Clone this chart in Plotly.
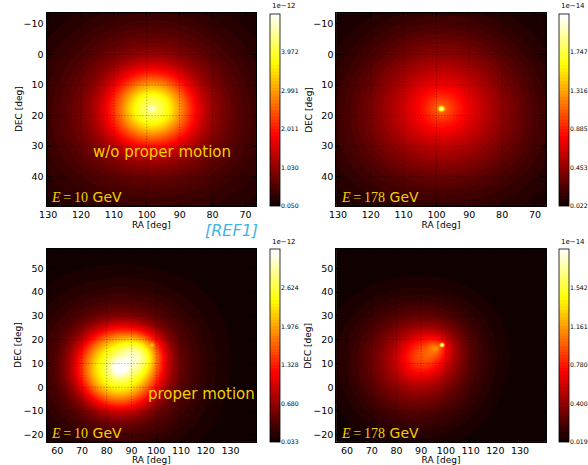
import numpy as np
import plotly.graph_objects as go

W, H = 588, 465

# ---------------- data ----------------
PSR_RA, PSR_DEC = 98.48, 17.77

top_ra_range = [130.5, 66.7]
top_dec_range = [49.5, -13.5]
bot_ra_range = [55.7, 140.4]
bot_dec_range = [-22.9, 58.1]

top_ra_ticks = [130, 120, 110, 100, 90, 80, 70]
top_dec_ticks = [-10, 0, 10, 20, 30, 40]
bot_ra_ticks = [60, 70, 80, 90, 100, 110, 120, 130]
bot_dec_ticks = [-20, -10, 0, 10, 20, 30, 40, 50]

# colorbar ticks (units shown by the offset label) and the colour range
cb_ticks_tl = [0.050, 1.030, 2.011, 2.991, 3.972]
cb_range_tl = [0.050, 4.953]
cb_ticks_tr = [0.022, 0.453, 0.885, 1.316, 1.747]
cb_range_tr = [0.022, 2.178]
cb_ticks_bl = [0.033, 0.680, 1.328, 1.976, 2.624]
cb_range_bl = [0.033, 3.271]
cb_ticks_br = [0.019, 0.400, 0.780, 1.161, 1.542]
cb_range_br = [0.019, 1.922]

cb_offsets = ["1e\u221212", "1e\u221214", "1e\u221212", "1e\u221214"]

# emission components per panel (fraction of colour range)
# top-left: 10 GeV, no proper motion
tl_ra = [PSR_RA, PSR_RA, PSR_RA]
tl_dec = [PSR_DEC, PSR_DEC, PSR_DEC]
tl_width = [11.0, 27.0, 0.8]
tl_amp = [0.60, 0.26, 0.14]
tl_shape = ["g", "g", "g"]
# top-right: 178 GeV, no proper motion
tr_ra = [PSR_RA, PSR_RA, PSR_RA]
tr_dec = [PSR_DEC, PSR_DEC, PSR_DEC]
tr_width = [25.0, 6.5, 0.7]
tr_amp = [0.29, 0.25, 0.46]
tr_shape = ["g", "e", "g"]
# bottom-left: 10 GeV, proper motion
bl_ra = [85.0, 85.0, 94.0, 86.0, PSR_RA]
bl_dec = [8.0, 8.0, 14.5, 8.0, PSR_DEC]
bl_width = [16.0, 4.0, 8.0, 26.0, 0.7]
bl_amp = [0.54, 0.18, 0.22, 0.28, 0.15]
bl_shape = ["s", "g", "g", "g", "g"]
# bottom-right: 178 GeV, proper motion
br_ra = [88.0, 90.0, 96.0, PSR_RA]
br_dec = [10.0, 12.5, 16.5, PSR_DEC]
br_width = [22.0, 9.0, 5.0, 0.7]
br_amp = [0.26, 0.16, 0.30, 0.58]
br_shape = ["g", "g", "e", "g"]

N_LEVELS = 60

# matplotlib "hot"
HOT = [[0.0, "rgb(11,0,0)"], [0.365079, "rgb(255,0,0)"],
       [0.746032, "rgb(255,255,0)"], [1.0, "rgb(255,255,255)"]]

FONT = "DejaVu Sans"
GOLD = "#f2d000"


def sep(ra, dec, ra0, dec0):
    r1, d1, r0, d0 = map(np.radians, (ra, dec, ra0, dec0))
    c = np.sin(d1) * np.sin(d0) + np.cos(d1) * np.cos(d0) * np.cos(r1 - r0)
    return np.degrees(np.arccos(np.clip(c, -1, 1)))


def field(ra_rng, dec_rng, ras, decs, widths, amps, shapes, zr):
    ra = np.linspace(min(ra_rng), max(ra_rng), 260)
    dec = np.linspace(min(dec_rng), max(dec_rng), 260)
    RA, DEC = np.meshgrid(ra, dec)
    f = np.zeros_like(RA)
    for a, d, w, amp, s in zip(ras, decs, widths, amps, shapes):
        r = sep(RA, DEC, a, d)
        if s == "g":
            f += amp * np.exp(-(r / w) ** 2)
        elif s == "e":
            f += amp * np.exp(-r / w)
        else:
            f += amp * np.exp(-(r / w) ** 3)
    z = zr[0] + f * (zr[1] - zr[0])
    return ra, dec, z


def px_x(a, b):
    return [a / W, b / W]


def px_y(top, bot):
    return [1 - bot / H, 1 - top / H]


panels = [
    dict(xd=px_x(40, 252.3), yd=px_y(13.3, 205.7), cbx=265.7, ytx=11.7,
         rar=top_ra_range, der=top_dec_range, rat=top_ra_ticks, det=top_dec_ticks,
         comp=(tl_ra, tl_dec, tl_width, tl_amp, tl_shape), cbt=cb_ticks_tl, cbr=cb_range_tl),
    dict(xd=px_x(333.3, 545.3), yd=px_y(13.3, 205.7), cbx=558.3, ytx=305.0,
         rar=top_ra_range, der=top_dec_range, rat=top_ra_ticks, det=top_dec_ticks,
         comp=(tr_ra, tr_dec, tr_width, tr_amp, tr_shape), cbt=cb_ticks_tr, cbr=cb_range_tr),
    dict(xd=px_x(40, 252.3), yd=px_y(249, 441.7), cbx=265.7, ytx=11.7,
         rar=bot_ra_range, der=bot_dec_range, rat=bot_ra_ticks, det=bot_dec_ticks,
         comp=(bl_ra, bl_dec, bl_width, bl_amp, bl_shape), cbt=cb_ticks_bl, cbr=cb_range_bl),
    dict(xd=px_x(333.3, 545.3), yd=px_y(249, 441.7), cbx=558.3, ytx=305.0,
         rar=bot_ra_range, der=bot_dec_range, rat=bot_ra_ticks, det=bot_dec_ticks,
         comp=(br_ra, br_dec, br_width, br_amp, br_shape), cbt=cb_ticks_br, cbr=cb_range_br),
]

CB_W = 10  # colorbar thickness, px

fig = go.Figure()
shapes = []
annotations = []
layout = dict(width=W, height=H, margin=dict(l=0, r=0, t=0, b=0),
              paper_bgcolor="white", plot_bgcolor="black", showlegend=False,
              font=dict(family=FONT, color="black"))

GRID = dict(color="rgba(0,0,0,0.7)", width=0.6, dash="1px,2px")

for i, p in enumerate(panels):
    k = "" if i == 0 else str(i + 1)
    xa, ya = "x" + k, "y" + k
    ra, dec, z = field(p["rar"], p["der"], *p["comp"], p["cbr"])
    zr = p["cbr"]
    y0, y1 = p["yd"]
    fig.add_trace(go.Contour(
        x=ra, y=dec, z=z, xaxis=xa, yaxis=ya,
        colorscale=HOT, zmin=zr[0], zmax=zr[1], zauto=False,
        autocontour=False,
        contours=dict(start=zr[0], end=zr[1], size=(zr[1] - zr[0]) / N_LEVELS,
                      coloring="fill", showlines=False),
        line=dict(width=0, smoothing=0),
        hoverinfo="skip",
        colorbar=dict(x=p["cbx"] / W, xanchor="left", xref="paper",
                      y=y0, yanchor="bottom", len=y1 - y0,
                      lenmode="fraction", thickness=CB_W, thicknessmode="pixels",
                      xpad=0, ypad=0, outlinewidth=0.8, outlinecolor="black",
                      tickmode="array", tickvals=p["cbt"], ticks="",
                      showticklabels=False),
    ))
    # colorbar tick labels placed next to the bar
    for v in p["cbt"]:
        frac = (v - zr[0]) / (zr[1] - zr[0])
        annotations.append(dict(text="%.3f" % v, xref="paper", yref="paper",
                                x=(p["cbx"] + CB_W + 0.6) / W, y=y0 + frac * (y1 - y0),
                                xanchor="left", yanchor="middle", showarrow=False,
                                borderpad=0,
                                font=dict(size=6.2, family=FONT, color="black")))
        shapes.append(dict(type="line", xref="paper", yref="paper",
                           x0=(p["cbx"] + CB_W - 2) / W, x1=(p["cbx"] + CB_W) / W,
                           y0=y0 + frac * (y1 - y0), y1=y0 + frac * (y1 - y0),
                           line=dict(color="black", width=0.6)))
    layout["xaxis" + k] = dict(
        domain=p["xd"], range=p["rar"], anchor=ya, tickmode="array", tickvals=p["rat"],
        ticks="inside", ticklen=4, tickcolor="black", showline=True, linecolor="black",
        linewidth=1, mirror="allticks", showgrid=False, zeroline=False,
        tickfont=dict(size=9.5, family=FONT),
        title=dict(text="RA [deg]", font=dict(size=9, family=FONT), standoff=0))
    layout["yaxis" + k] = dict(
        domain=p["yd"], range=p["der"], anchor=xa, tickmode="array", tickvals=p["det"],
        ticktext=[str(v).replace("-", "\u2212") for v in p["det"]],
        ticks="inside", ticklen=4, tickcolor="black", showline=True, linecolor="black",
        linewidth=1, mirror="allticks", showgrid=False, zeroline=False,
        tickfont=dict(size=9.5, family=FONT))
    annotations.append(dict(text="DEC [deg]", xref="paper", yref="paper",
                            x=p["ytx"] / W, y=(y0 + y1) / 2, textangle=-90,
                            xanchor="center", yanchor="middle", showarrow=False,
                            font=dict(size=9, family=FONT, color="black")))
    for v in p["rat"]:
        shapes.append(dict(type="line", xref=xa, yref=ya + " domain", x0=v, x1=v, y0=0, y1=1,
                           line=GRID, layer="above"))
    for v in p["det"]:
        shapes.append(dict(type="line", xref=xa + " domain", yref=ya, x0=0, x1=1, y0=v, y1=v,
                           line=GRID, layer="above"))
    annotations.append(dict(text=cb_offsets[i], xref="paper", yref="paper",
                            x=p["cbx"] / W, y=y1 + 0.003, xanchor="left",
                            yanchor="bottom", showarrow=False,
                            font=dict(size=7, family=FONT, color="black")))

energies = ["10", "178", "10", "178"]
for i, e in enumerate(energies):
    k = "" if i == 0 else str(i + 1)
    annotations.append(dict(
        text='<span style="font-family:\'Liberation Serif\'"><i>E</i>\u2009=\u2009' + e + '</span> GeV',
        xref="x" + k + " domain", yref="y" + k + " domain", x=0.012, y=-0.005,
        xanchor="left", yanchor="bottom", showarrow=False,
        font=dict(size=14, family=FONT, color=GOLD)))

annotations.append(dict(text="w/o proper motion", xref="x domain", yref="y domain",
                        x=0.55, y=0.279, xanchor="center", yanchor="middle",
                        showarrow=False, font=dict(size=15, family=FONT, color=GOLD)))
annotations.append(dict(text="proper motion", xref="x3 domain", yref="y3 domain",
                        x=0.738, y=0.2475, xanchor="center", yanchor="middle",
                        showarrow=False, font=dict(size=15, family=FONT, color=GOLD)))
annotations.append(dict(text="<i>[REF1]</i>", xref="paper", yref="paper",
                        x=226.7 / W, y=1 - 230.5 / H, xanchor="center", yanchor="middle",
                        showarrow=False, font=dict(size=16, family=FONT, color="#41b4e4")))

layout["shapes"] = shapes
layout["annotations"] = annotations
fig.update_layout(**layout)
fig.write_html("out.html")
